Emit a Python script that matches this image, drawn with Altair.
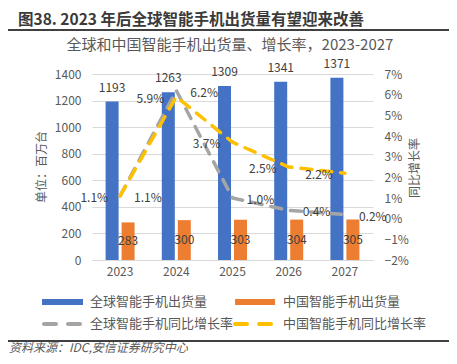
import altair as alt
import pandas as pd

years = ["2023", "2024", "2025", "2026", "2027"]
global_ship = [1193, 1263, 1309, 1341, 1371]
china_ship = [283, 300, 303, 304, 305]
gray_growth = [0.011, 0.062, 0.010, 0.004, 0.002]
yellow_growth = [0.011, 0.059, 0.037, 0.025, 0.022]

S_G = "全球智能手机出货量"
S_C = "中国智能手机出货量"
L_G = "全球智能手机同比增长率"
L_C = "中国智能手机同比增长率"

bars_df = pd.DataFrame({"year": years * 2,
                        "series": [S_G] * 5 + [S_C] * 5,
                        "value": global_ship + china_ship})
gray_df = pd.DataFrame({"year": years, "g": gray_growth})
yel_df = pd.DataFrame({"year": years, "g": yellow_growth})
one = pd.DataFrame({"a": [0]})

FONT = "Noto Sans CJK SC"
TXT = "#595959"
LBL = "#404040"
BLUE, ORANGE, GRAY, YELLOW = "#4472C4", "#ED7D31", "#A5A5A5", "#FFC000"
W, H = 281, 186

x_enc = alt.X("year:N", sort=years,
              scale=alt.Scale(paddingInner=0.484, paddingOuter=0.242),
              axis=alt.Axis(title=None, labelAngle=0, ticks=False, domainColor="#d9d9d9",
                            labelFontSize=12, labelColor=TXT, labelFont=FONT, labelPadding=6))
xoff = alt.XOffset("series:N", sort=[S_G, S_C],
                   scale=alt.Scale(domain=[S_G, S_C], paddingInner=0.1875, paddingOuter=0))
yL = alt.Scale(domain=[0, 1400], nice=False, zero=True)
yR = alt.Scale(domain=[-0.02, 0.07], nice=False, zero=False)

bars = alt.Chart(bars_df).mark_bar().encode(
    x=x_enc, xOffset=xoff,
    y=alt.Y("value:Q", scale=yL,
            axis=alt.Axis(values=list(range(0, 1401, 200)), format="d", title=None, domain=False,
                          ticks=False, gridColor="#d9d9d9", labelFontSize=12, labelColor=TXT,
                          labelFont=FONT, labelPadding=11)),
    color=alt.Color("series:N", scale=alt.Scale(domain=[S_G, S_C], range=[BLUE, ORANGE]), legend=None),
)

blue_lbl = alt.Chart(bars_df).transform_filter(alt.datum.series == S_G).mark_text(
    dy=-14, baseline="middle", font=FONT, fontSize=12, color=LBL).encode(
    x=x_enc, xOffset=xoff,
    y=alt.Y("value:Q", scale=yL, axis=None),
    text=alt.Text("value:Q"))

orange_lbl = alt.Chart(bars_df).transform_filter(alt.datum.series == S_C).transform_calculate(
    mid="datum.value / 2").mark_text(baseline="middle", font=FONT, fontSize=12, color=LBL).encode(
    x=x_enc, xOffset=xoff,
    y=alt.Y("mid:Q", scale=yL, axis=None),
    text=alt.Text("value:Q"))

gray_line = alt.Chart(gray_df).mark_line(color=GRAY, strokeWidth=3.5, strokeDash=[11, 9],
                                         strokeCap="round").encode(
    x=x_enc,
    y=alt.Y("g:Q", scale=yR,
            axis=alt.Axis(orient="right", values=[-0.02, -0.01, 0, 0.01, 0.02, 0.03, 0.04, 0.05, 0.06, 0.07],
                          format=".0%", title=None, domain=False, ticks=False, grid=False,
                          labelFontSize=12, labelColor=TXT, labelFont=FONT, labelPadding=11)))

yel_line = alt.Chart(yel_df).mark_line(color=YELLOW, strokeWidth=3.5, strokeDash=[11, 9],
                                       strokeCap="round").encode(
    x=x_enc, y=alt.Y("g:Q", scale=yR, axis=None))

gray_lbl = alt.Chart(gray_df).mark_text(align="left", dx=14, dy=2, baseline="middle", font=FONT,
                                        fontSize=12, color=LBL).encode(
    x=x_enc, y=alt.Y("g:Q", scale=yR, axis=None), text=alt.Text("g:Q", format=".1%"))

yel_lbl = alt.Chart(yel_df).mark_text(align="right", dx=-12, dy=2, baseline="middle", font=FONT,
                                      fontSize=12, color=LBL).encode(
    x=x_enc, y=alt.Y("g:Q", scale=yR, axis=None), text=alt.Text("g:Q", format=".1%"))


def txt(s, x, y, **kw):
    params = dict(font=FONT, fontSize=12, color=TXT, baseline="middle", align="left")
    params.update(kw)
    return alt.Chart(one).mark_text(text=s, **params).encode(x=alt.value(x), y=alt.value(y))


def rule(x1, x2, y, color, width, dash=None):
    kw = dict(color=color, strokeWidth=width)
    if dash:
        kw.update(strokeDash=dash, strokeCap="round")
    else:
        kw.update(strokeCap="butt")
    return alt.Chart(one).mark_rule(**kw).encode(x=alt.value(x1), x2=alt.value(x2), y=alt.value(y))


decor = [
    txt("图38. 2023 年后全球智能手机出货量有望迎来改善", -74, -54, fontSize=15.5, fontWeight="bold", color="#3a3a3a"),
    rule(-84, 357, -44, "#000000", 1.5),
    txt("全球和中国智能手机出货量、增长率，2023-2027", 138, -29, fontSize=15, align="center"),
    txt("单位：百万台", -50, 93, angle=270, align="center", fontSize=12),
    txt("同比增长率", 323, 94, angle=270, align="center", fontSize=12),
    rule(-50, -9, 228, BLUE, 6),
    txt(S_G, -2, 228, fontSize=13),
    rule(143, 183, 228, ORANGE, 6),
    txt(S_C, 191, 228, fontSize=13),
    rule(-48, -12, 250, GRAY, 4, dash=[12, 12]),
    txt(L_G, -2, 250, fontSize=13),
    rule(143, 179, 250, YELLOW, 4, dash=[12, 12]),
    txt(L_C, 191, 250, fontSize=13),
    rule(-84, 357, 267, "#000000", 1.5),
    txt("资料来源：IDC,安信证券研究中心", -83, 274, fontSize=12, fontStyle="italic"),
]

chart = alt.layer(bars, blue_lbl, orange_lbl, gray_line, yel_line, gray_lbl, yel_lbl, *decor).resolve_scale(
    y="independent"
).properties(
    width=W, height=H,
    autosize=alt.AutoSizeParams(type="none"),
    padding={"left": 84, "top": 66, "right": 76, "bottom": 96},
).configure_view(stroke=None)

chart.save("out.html", embed_options={"renderer": "svg", "actions": False})
